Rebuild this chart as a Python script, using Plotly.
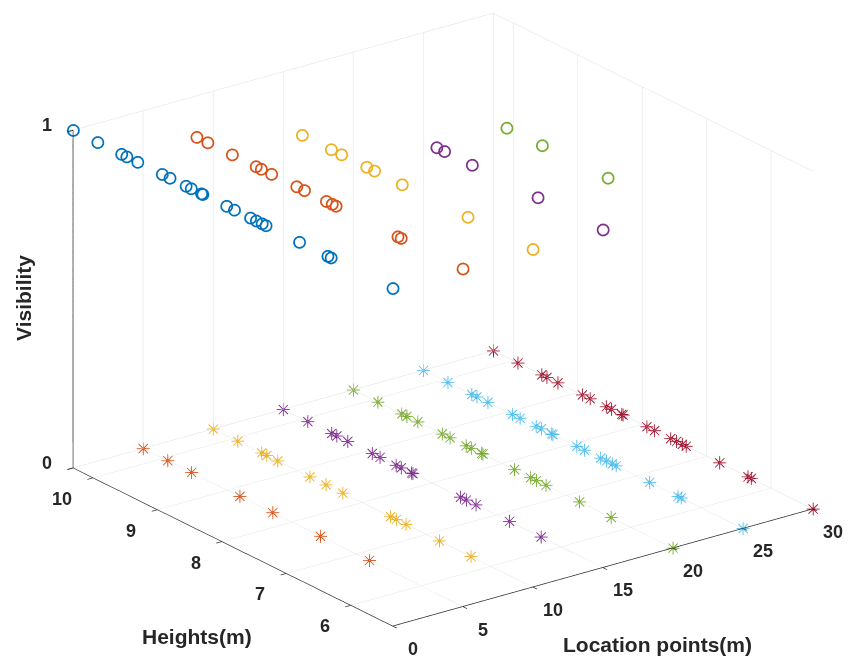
import plotly.graph_objects as go
import math

# Location points (m) for each colour series
locations = [0, 5, 10, 15, 20, 25, 30]
# Heights (m) shared by every location
heights = [10.31, 9.93, 9.56, 9.48, 9.31, 8.93, 8.81, 8.56, 8.48, 8.32, 8.30,
           7.93, 7.81, 7.56, 7.47, 7.38, 7.32, 6.80, 6.36, 6.31, 5.35]
# Visibility (1 = visible, 0 = not visible) per location, in heights order
vis_loc0 = [1, 1, 1, 1, 1, 1, 1, 1, 1, 1, 1, 1, 1, 1, 1, 1, 1, 1, 1, 1, 1]
vis_loc5 = [0, 0, 0, 1, 1, 1, 0, 1, 1, 1, 0, 1, 1, 0, 1, 1, 1, 0, 1, 1, 1]
vis_loc10 = [0, 0, 0, 0, 0, 1, 0, 0, 1, 1, 0, 1, 1, 0, 0, 1, 0, 0, 1, 0, 1]
vis_loc15 = [0, 0, 0, 0, 0, 0, 0, 0, 0, 0, 0, 1, 1, 0, 0, 1, 0, 0, 1, 0, 1]
vis_loc20 = [0, 0, 0, 0, 0, 0, 0, 0, 0, 0, 0, 1, 0, 0, 0, 1, 0, 0, 1, 0, 0]
vis_loc25 = [0] * 21
vis_loc30 = [0] * 21
visibility = [vis_loc0, vis_loc5, vis_loc10, vis_loc15, vis_loc20, vis_loc25, vis_loc30]

colors = ['#0072BD', '#D95319', '#EDB120', '#7E2F8E', '#77AC30', '#4DBEEE', '#A2142F']

x_ticks = [0, 5, 10, 15, 20, 25, 30]
y_ticks = [6, 7, 8, 9, 10]
z_ticks = [0, 1]
x_range = [0, 30]
y_range = [5.35, 10.31]
z_range = [0, 1]

fig = go.Figure()
for loc, vis, col in zip(locations, visibility, colors):
    xs1 = [loc for v in vis if v == 1]
    ys1 = [h for h, v in zip(heights, vis) if v == 1]
    zs1 = [1 for v in vis if v == 1]
    xs0 = [loc for v in vis if v == 0]
    ys0 = [h for h, v in zip(heights, vis) if v == 0]
    zs0 = [0 for v in vis if v == 0]
    if xs1:
        fig.add_trace(go.Scatter3d(x=xs1, y=ys1, z=zs1, mode='markers',
                                   marker=dict(symbol='circle-open', size=7, color=col,
                                               line=dict(color=col, width=1)),
                                   showlegend=False, hoverinfo='skip'))
    if xs0:
        fig.add_trace(go.Scatter3d(x=xs0, y=ys0, z=zs0, mode='text',
                                   text=['\u2733'] * len(xs0),
                                   textposition='middle center',
                                   textfont=dict(family='DejaVu Sans', size=18, color=col),
                                   showlegend=False, hoverinfo='skip'))

FONT = 'Liberation Sans, Arial, Helvetica'
tickfont = dict(family=FONT, size=18, color='#262626', weight='bold')
titlefont = dict(family=FONT, size=21, color='#262626', weight='bold')
common = dict(showbackground=False, showgrid=True, gridcolor='#dedede', gridwidth=1,
              showline=True, linecolor='#262626', linewidth=1.5, ticks='outside',
              ticklen=7, tickwidth=2, tickcolor='#262626', zeroline=False,
              showspikes=False, showticklabels=False, autorange=False,
              title=dict(text=''))

# tick labels anchored in data space via scene annotations
scene_ann = []
for t in x_ticks:
    scene_ann.append(dict(x=t, y=y_range[0], z=z_range[0], text=str(t), showarrow=False,
                          xanchor='center', yanchor='middle', xshift=20, yshift=-23,
                          font=tickfont))
for t in y_ticks:
    scene_ann.append(dict(x=x_range[0], y=t, z=z_range[0], text=str(t), showarrow=False,
                          xanchor='right', yanchor='middle', xshift=-19, yshift=-21,
                          font=tickfont))
for t in z_ticks:
    scene_ann.append(dict(x=x_range[0], y=y_range[1], z=t, text=str(t), showarrow=False,
                          xanchor='right', yanchor='middle', xshift=-19, yshift=5,
                          font=tickfont))

beta = math.radians(36.9)
elev = math.radians(21.8)
v = (-math.sin(beta) * math.cos(elev), -math.cos(beta) * math.cos(elev), math.sin(elev))
D = 2.0
k = 331.0
zoom = 1.595
r = (math.cos(beta), -math.sin(beta), 0)
u = (math.sin(beta) * math.sin(elev), math.cos(beta) * math.sin(elev), math.cos(elev))
sx, sy = -7.5 / k, -18.0 / k
c = tuple(sx * r[i] + sy * u[i] for i in range(3))
eye = tuple(c[i] + D * v[i] for i in range(3))

fig.update_layout(
    width=855, height=659,
    margin=dict(l=0, r=0, t=0, b=0),
    paper_bgcolor='white',
    scene=dict(
        xaxis=dict(common, range=x_range, tickvals=x_ticks),
        yaxis=dict(common, range=y_range, tickvals=y_ticks),
        zaxis=dict(common, range=z_range, tickvals=z_ticks),
        aspectmode='manual',
        aspectratio=dict(x=1.0 * zoom, y=1.013 * zoom, z=0.692 * zoom),
        camera=dict(projection=dict(type='orthographic'),
                    eye=dict(x=eye[0], y=eye[1], z=eye[2]),
                    center=dict(x=c[0], y=c[1], z=c[2]),
                    up=dict(x=0, y=0, z=1)),
        annotations=scene_ann,
    ),
    annotations=[
        dict(text='Visibility', x=0.0175, y=0.5599, xref='paper', yref='paper',
             xanchor='center', yanchor='middle',
             showarrow=False, textangle=-90, font=titlefont),
        dict(text='Heights(m)', x=0.2211, y=0.0470, xref='paper', yref='paper',
             xanchor='center', yanchor='middle',
             showarrow=False, font=titlefont),
        dict(text='Location points(m)', x=0.7602, y=0.0334, xref='paper', yref='paper',
             xanchor='center', yanchor='middle',
             showarrow=False, font=titlefont),
    ],
)

fig.write_html('out.html')
